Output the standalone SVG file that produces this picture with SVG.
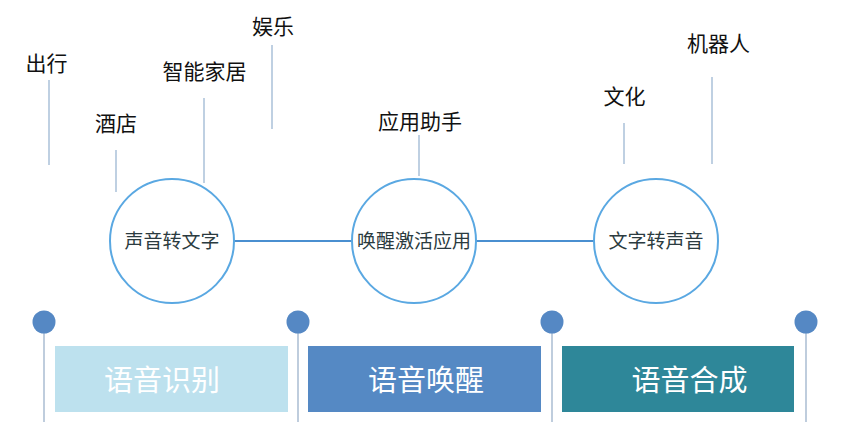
<svg xmlns="http://www.w3.org/2000/svg" width="848" height="422" viewBox="0 0 848 422">
<style>
.lbl{font-family:"Noto Sans CJK SC","Liberation Sans",sans-serif;font-size:21px;fill:#111;text-anchor:middle}
.ctx{font-family:"Noto Sans CJK SC","Liberation Sans",sans-serif;font-size:19px;fill:#2b3b40;text-anchor:middle}
.btx{font-family:"Noto Sans CJK SC","Liberation Sans",sans-serif;font-size:29px;fill:#fff;text-anchor:middle}
.lead{stroke:#aac0d8;stroke-width:1.5;fill:none}
.link{stroke:#4a8fd0;stroke-width:2;fill:none}
.circ{fill:#fff;stroke:#5aa8e2;stroke-width:2}
.pin{stroke:#aabdd2;stroke-width:1.5;fill:none}
.dot{fill:#5588c4}
</style>
<rect width="848" height="422" fill="#fff"/>
<g id="connectors">
<line class="link" x1="233" y1="241" x2="353" y2="241"/>
<line class="link" x1="476" y1="241" x2="595" y2="241"/>
<line class="lead" x1="49" y1="80" x2="49" y2="165"/>
<line class="lead" x1="116" y1="150" x2="116" y2="192"/>
<line class="lead" x1="204" y1="98" x2="204" y2="183"/>
<line class="lead" x1="272" y1="45" x2="272" y2="129"/>
<line class="lead" x1="419" y1="135" x2="419" y2="176"/>
<line class="lead" x1="624" y1="123" x2="624" y2="164"/>
<line class="lead" x1="712" y1="77" x2="712" y2="164"/>
<line class="pin" x1="44" y1="322" x2="44" y2="422"/>
<line class="pin" x1="298" y1="322" x2="298" y2="422"/>
<line class="pin" x1="552" y1="322" x2="552" y2="422"/>
<line class="pin" x1="806" y1="322" x2="806" y2="422"/>
</g>
<g id="pins">
<circle class="dot" cx="44" cy="322" r="11.5"/>
<circle class="dot" cx="298" cy="322" r="11.5"/>
<circle class="dot" cx="552" cy="322" r="11.5"/>
<circle class="dot" cx="806" cy="322" r="11.5"/>
</g>
<g id="label-chuxing"><text class="lbl" x="46.5" y="71">出行</text></g>
<g id="label-jiudian"><text class="lbl" x="116" y="131">酒店</text></g>
<g id="label-zhineng"><text class="lbl" x="204.5" y="79">智能家居</text></g>
<g id="label-yule"><text class="lbl" x="273" y="34">娱乐</text></g>
<g id="label-yingyong"><text class="lbl" x="420" y="129">应用助手</text></g>
<g id="label-wenhua"><text class="lbl" x="624.5" y="104">文化</text></g>
<g id="label-jiqiren"><text class="lbl" x="718.5" y="51">机器人</text></g>
<g id="node-stt"><circle class="circ" cx="172" cy="241" r="62"/><text class="ctx" x="172" y="248">声音转文字</text></g>
<g id="node-wake"><circle class="circ" cx="414" cy="241" r="62"/><text class="ctx" x="414" y="248">唤醒激活应用</text></g>
<g id="node-tts"><circle class="circ" cx="656" cy="241" r="62"/><text class="ctx" x="656" y="248">文字转声音</text></g>
<g id="box-asr"><rect x="55" y="346" width="233" height="66" fill="#bde1ee"/><text class="btx" x="162" y="391">语音识别</text></g>
<g id="box-wakeup"><rect x="308" y="346" width="233" height="66" fill="#5589c4"/><text class="btx" x="426" y="391">语音唤醒</text></g>
<g id="box-synth"><rect x="562" y="346" width="232" height="66" fill="#2e8799"/><text class="btx" x="689.5" y="391">语音合成</text></g>
</svg>
